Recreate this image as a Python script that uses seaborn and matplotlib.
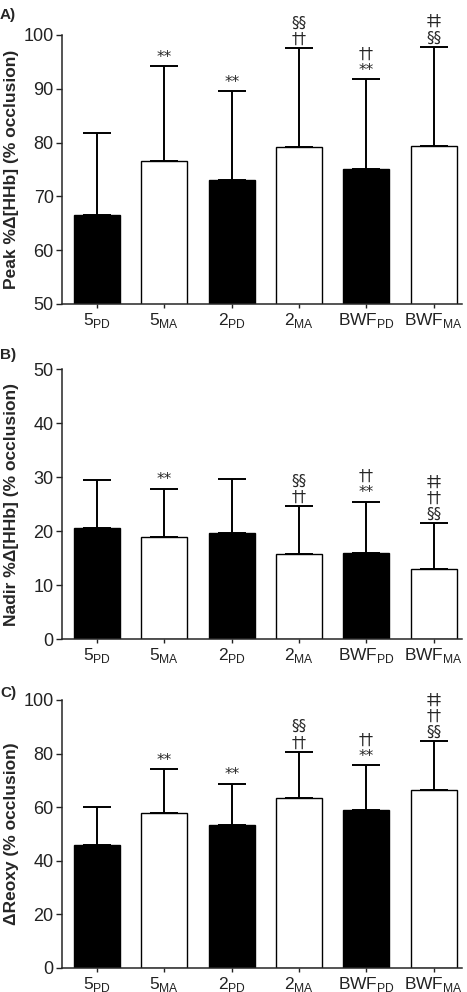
import numpy as np
import pandas as pd
import matplotlib
matplotlib.use("Agg")
import matplotlib.pyplot as plt
import seaborn as sns

sns.set_style("ticks")
plt.rcParams['font.family'] = ['Liberation Sans', 'DejaVu Sans']
plt.rcParams['mathtext.fontset'] = 'custom'
plt.rcParams['mathtext.rm'] = 'Liberation Sans'

# Data
groups = ["5PD", "5MA", "2PD", "2MA", "BWFPD", "BWFMA"]
tick_labels = [r"5$_\mathregular{PD}$", r"5$_\mathregular{MA}$", r"2$_\mathregular{PD}$",
               r"2$_\mathregular{MA}$", r"BWF$_\mathregular{PD}$", r"BWF$_\mathregular{MA}$"]
bar_colors = ["black", "white", "black", "white", "black", "white"]

peak_mean = [66.5, 76.6, 73.0, 79.1, 75.0, 79.4]
peak_sd = [15.2, 17.6, 16.5, 18.4, 16.8, 18.4]
nadir_mean = [20.5, 18.9, 19.6, 15.7, 15.9, 13.0]
nadir_sd = [8.9, 8.9, 10.0, 8.9, 9.5, 8.4]
reoxy_mean = [45.9, 57.7, 53.5, 63.3, 59.1, 66.3]
reoxy_sd = [14.3, 16.4, 15.3, 17.4, 16.5, 18.3]

# significance markers, listed bottom to top
peak_marks = [[], ["**"], ["**"], ["††", "§§"], ["**", "††"], ["§§", "‡‡"]]
nadir_marks = [[], ["**"], [], ["††", "§§"], ["**", "††"], ["§§", "††", "‡‡"]]
reoxy_marks = [[], ["**"], ["**"], ["††", "§§"], ["**", "††"], ["§§", "††", "‡‡"]]

panels = [
    ("A)", "Peak %Δ[HHb] (% occlusion)", peak_mean, peak_sd, peak_marks, (50, 100), [50, 60, 70, 80, 90, 100]),
    ("B)", "Nadir %Δ[HHb] (% occlusion)", nadir_mean, nadir_sd, nadir_marks, (0, 50), [0, 10, 20, 30, 40, 50]),
    ("C)", "ΔReoxy (% occlusion)", reoxy_mean, reoxy_sd, reoxy_marks, (0, 100), [0, 20, 40, 60, 80, 100]),
]

fig = plt.figure(figsize=(4.67, 9.92), dpi=100)
W, H = 467, 992
ax_boxes = [(35, 304), (369, 639), (700, 968)]
label_y = [15, 355, 693]

for (tag, ylabel, means, sds, marks, ylim, yticks), (top, bottom), ly in zip(panels, ax_boxes, label_y):
    left, right = 62, 462
    ax = fig.add_axes([left / W, 1 - bottom / H, (right - left) / W, (bottom - top) / H])
    df = pd.DataFrame({"group": groups, "value": means})
    sns.barplot(data=df, x="group", y="value", hue="group", palette=bar_colors,
                edgecolor="black", linewidth=1.0, width=0.68, errorbar=None,
                legend=False, ax=ax, zorder=2)
    x = np.arange(len(groups))
    ax.errorbar(x, means, yerr=[np.zeros(len(sds)), sds], fmt="none", ecolor="black",
                elinewidth=1.4, capsize=10, capthick=1.4, zorder=1)
    for xi, m, s, mk in zip(x, means, sds, marks):
        if mk:
            ax.annotate("\n".join(mk[::-1]), xy=(xi, m + s), xytext=(0, 1.0),
                        textcoords="offset points", ha="center", va="bottom",
                        fontsize=11, linespacing=1.1, family=['DejaVu Sans'],
                        annotation_clip=False)
    ax.set_ylim(*ylim)
    ax.set_yticks(yticks)
    ax.set_xlim(-0.52, 5.42)
    ax.set_xticks(x)
    ax.set_xticklabels(tick_labels, fontsize=12.5)
    ax.tick_params(axis="y", labelsize=13, length=4, width=1, colors="#222222", pad=2)
    ax.tick_params(axis="x", length=3, width=1, pad=2, colors="#222222")
    ax.set_xlabel("")
    ax.set_ylabel(ylabel, fontsize=12.5, fontweight="bold")
    ax.yaxis.set_label_coords(-0.108, 0.5)
    sns.despine(ax=ax)
    for sp in ["left", "bottom"]:
        ax.spines[sp].set_linewidth(1.1)
    fig.text(0 / W, 1 - ly / H, tag, fontsize=11, fontweight="bold", va="center", ha="left")

fig.savefig("out.png", dpi=100)
